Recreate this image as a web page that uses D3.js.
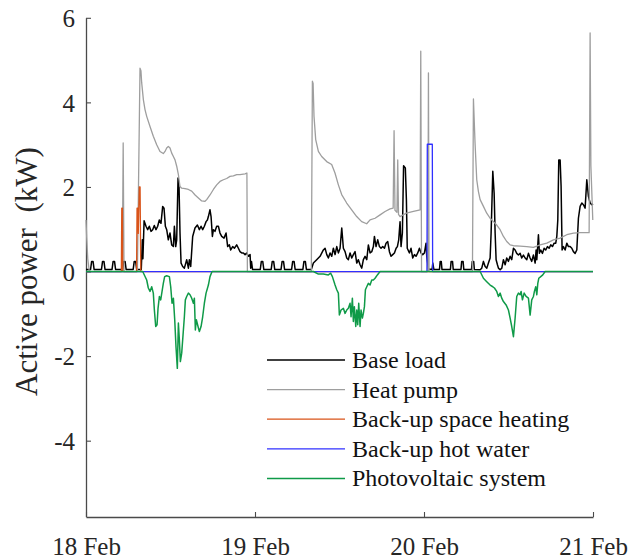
<!DOCTYPE html>
<html>
<head>
<meta charset="utf-8">
<script src="https://cdn.jsdelivr.net/npm/d3@7"></script>
<style>
  html, body { margin: 0; padding: 0; background: #fff; }
  svg { display: block; }
</style>
</head>
<body>
<div id="chart"></div>
<script>
// ---- Data: [hour since 18 Feb 00:00, kW] ----
const baseLoad = [
  [0,0.05],[0.65,0.05],[0.8,0.24],[1.0,0.24],[1.15,0.05],[2.2,0.05],[2.35,0.24],[2.55,0.24],[2.7,0.05],
  [3.7,0.05],[3.85,0.24],[4.05,0.24],[4.2,0.05],[5.2,0.05],[5.35,0.24],[5.55,0.24],[5.7,0.05],
  [6.7,0.05],[6.85,0.24],[7.05,0.24],[7.2,0.05],[7.85,0.05],[8.0,0.75],[8.08,0.3],[8.25,1.2],
  [8.52,1.07],[8.76,0.99],[8.99,1.07],[9.23,0.95],[9.47,0.99],[9.7,1.09],[9.94,0.99],[10.18,1.07],
  [10.41,1.22],[10.65,1.14],[10.89,1.54],[11.08,1.5],[11.27,1.07],[11.46,0.99],[11.69,0.75],[11.93,0.91],
  [12.17,0.63],[12.41,0.59],[12.55,1.07],[12.74,0.59],[12.88,0.75],[13.07,2.21],[13.21,2.01],[13.35,0.91],
  [13.5,0.2],[13.73,0.12],[13.97,0.08],[14.3,0.28],[14.54,0.08],[14.68,0.28],[14.87,0.12],[15.15,0.83],
  [15.48,1.03],[15.82,1.1],[16.1,0.99],[16.34,1.07],[16.57,0.99],[16.81,1.07],[17.05,1.18],[17.24,1.22],
  [17.38,1.3],[17.61,1.46],[17.76,1.3],[17.95,0.83],[18.09,0.99],[18.32,0.95],[18.56,1.07],[18.8,1.07],
  [19.03,0.91],[19.27,0.83],[19.6,0.79],[19.89,0.91],[20.12,0.59],[20.36,0.63],[20.55,0.51],[20.83,0.59],
  [21.07,0.55],[21.4,0.63],[21.64,0.55],[21.87,0.47],[22.11,0.44],[22.35,0.44],[22.59,0.4],[22.82,0.44],
  [23.06,0.36],[23.3,0.4],[23.39,0.08],[23.5,0.24],[23.65,0.05],
  [24.75,0.05],[24.9,0.24],[25.1,0.24],[25.25,0.05],[26.3,0.05],[26.45,0.24],[26.65,0.24],[26.8,0.05],
  [27.7,0.05],[27.85,0.24],[28.05,0.24],[28.2,0.05],[29.2,0.05],[29.35,0.24],[29.55,0.24],[29.7,0.05],
  [30.8,0.05],[30.95,0.24],[31.15,0.24],[31.3,0.05],[32.0,0.05],
  [32.29,0.2],[32.76,0.28],[33.24,0.36],[33.71,0.51],[33.95,0.55],[34.19,0.4],[34.42,0.32],[34.66,0.44],
  [34.9,0.36],[35.13,0.55],[35.37,0.4],[35.61,0.59],[35.84,0.44],[36.08,0.55],[36.32,1.03],[36.55,0.55],
  [36.79,0.47],[37.03,0.32],[37.26,0.28],[37.5,0.44],[37.74,0.32],[37.97,0.4],[38.21,0.47],[38.45,0.2],
  [38.68,0.28],[38.92,0.16],[39.16,0.08],[39.39,0.28],[39.63,0.36],[39.87,0.28],[40.1,0.63],[40.34,0.44],
  [40.58,0.47],[40.81,0.59],[40.96,0.83],[41.19,0.59],[41.43,0.75],[41.67,0.59],[41.9,0.55],[42.14,0.59],
  [42.38,0.55],[42.61,0.67],[42.85,0.71],[43.09,0.47],[43.32,0.36],[43.56,0.4],[43.8,0.44],[44.04,0.55],
  [44.22,0.59],[44.41,0.75],[44.6,1.18],[44.74,0.59],[44.93,0.91],[45.1,2.5],[45.35,2.45],[45.5,1.7],
  [45.62,0.55],[45.93,0.44],[46.16,0.55],[46.4,0.32],[46.64,0.4],[46.87,0.36],[47.11,0.44],[47.35,0.55],
  [47.58,0.44],[47.82,0.4],[48.06,0.44],[48.29,0.67],[48.39,0.36],[48.63,0.06],[49.15,0.05],[49.25,0.2],
  [49.4,0.05],[50.2,0.05],[50.3,0.24],[50.45,0.24],[50.55,0.05],[51.75,0.05],[51.85,0.24],[52.05,0.24],
  [52.15,0.05],[53.25,0.05],[53.35,0.24],[53.55,0.24],[53.65,0.05],[54.75,0.05],[54.85,0.24],[55.05,0.24],
  [55.15,0.05],
  [55.97,0.04],[56.2,0.08],[56.44,0.24],[56.68,0.12],[56.92,0.08],[57.15,0.2],[57.39,0.32],[57.53,0.91],
  [57.77,2.37],[57.96,1.85],[58.1,0.91],[58.24,0.28],[58.43,0.16],[58.57,0.08],[58.81,0.04],[59.05,0.08],
  [59.28,0.28],[59.52,0.16],[59.75,0.32],[59.99,0.24],[60.23,0.36],[60.46,0.28],[60.7,0.55],[60.94,0.51],
  [61.17,0.43],[61.41,0.39],[61.65,0.43],[61.88,0.32],[62.12,0.39],[62.36,0.32],[62.6,0.28],[62.83,0.43],
  [63.07,0.32],[63.3,0.24],[63.54,0.39],[63.78,0.2],[63.92,0.51],[64.02,0.28],[64.25,0.87],[64.39,0.43],
  [64.58,0.51],[64.82,0.43],[65.06,0.55],[65.29,0.51],[65.53,0.59],[65.77,0.55],[66.0,0.63],[66.24,0.59],
  [66.48,0.67],[66.71,0.67],[66.86,0.83],[67.0,1.22],[67.14,2.64],[67.33,2.64],[67.47,2.01],[67.61,0.51],
  [67.8,0.59],[68.04,0.51],[68.28,0.67],[68.51,0.59],[68.75,0.59],[68.99,0.55],[69.22,0.47],[69.46,0.43],
  [69.7,0.51],[69.93,1.26],[70.17,1.54],[70.41,1.62],[70.64,1.58],[70.88,1.5],[71.12,2.17],[71.35,1.78],
  [71.59,1.62],[71.83,1.58],[72.0,1.6]
];

const heatPump = [
  [0,1.22],[0.1,0.8],[0.25,0.3],[0.45,0.03],[0.6,0],[5.15,0],[5.28,3.04],[5.4,0],[7.3,0],[7.67,4.81],
  [7.8,4.75],[7.91,4.46],[8.15,4.06],[8.38,3.83],[8.62,3.67],[9.09,3.43],[9.56,3.2],[10.04,3.0],[10.51,2.84],
  [10.98,2.79],[11.22,2.84],[11.46,2.92],[11.69,2.96],[11.93,2.92],[12.17,2.8],[12.41,2.72],[12.64,2.64],
  [12.88,2.49],[13.12,2.29],[13.35,2.01],[13.59,1.97],[14.07,1.96],[14.54,1.94],[15.01,1.9],[15.49,1.81],
  [15.96,1.74],[16.43,1.67],[16.9,1.66],[17.14,1.7],[17.61,1.81],[18.09,1.94],[18.56,2.05],[19.03,2.13],
  [19.51,2.17],[19.98,2.2],[20.45,2.25],[20.93,2.26],[21.4,2.29],[21.87,2.29],[22.59,2.31],[22.85,2.33],
  [22.92,0],[32.0,0],[32.15,4.5],[32.25,4.45],[32.38,3.67],[32.62,3.12],[33.0,2.84],[33.47,2.72],
  [34.18,2.6],[34.89,2.53],[35.36,2.33],[35.84,2.05],[36.31,1.82],[37.02,1.62],[37.73,1.46],[38.44,1.3],
  [39.15,1.18],[39.86,1.13],[40.34,1.22],[41.05,1.26],[41.76,1.34],[42.47,1.42],[43.18,1.48],[43.62,1.5],
  [43.75,3.33],[43.88,1.45],[44.16,1.4],[44.27,2.64],[44.38,1.35],[44.6,1.3],[45.5,1.38],[46.5,1.42],
  [47.45,1.46],[47.54,5.21],[47.65,0],[48.55,0],[48.63,4.7],[48.72,0],[54.88,0],[55.02,4.08],[55.25,3.04],
  [55.49,2.17],[55.73,1.89],[55.97,1.7],[56.44,1.54],[56.91,1.38],[57.39,1.26],[57.86,1.18],[58.33,1.1],
  [58.81,0.99],[59.28,0.83],[59.75,0.71],[60.23,0.63],[60.7,0.61],[61.65,0.6],[62.6,0.59],[63.54,0.57],
  [64.49,0.63],[65.44,0.67],[66.38,0.75],[67.33,0.79],[68.28,0.87],[69.22,0.91],[70.17,0.92],[71.45,0.92],
  [71.59,5.64],[71.7,2.5],[71.97,1.22]
];

const backupSpaceHeating = [
  [0,0],[5.02,0],[5.08,1.5],[5.17,1.5],[5.22,0],[7.18,0],[7.25,1.5],[7.35,1.5],[7.42,0.9],[7.5,1.5],
  [7.58,2.0],[7.68,2.0],[7.78,0],[72,0]
];

const backupHotWater = [
  [0,0],[48.42,0],[48.47,3.01],[49.18,3.01],[49.23,0],[72,0]
];

const photovoltaic = [
  [0,0],[8.05,0],[8.62,-0.2],[8.85,-0.39],[9.09,-0.47],[9.33,-0.36],[9.56,-0.51],[9.71,-0.91],[9.9,-1.3],
  [10.09,-1.26],[10.23,-0.87],[10.42,-0.59],[10.61,-0.67],[10.8,-0.47],[10.98,-0.28],[11.17,-0.12],
  [11.46,-0.1],[11.84,-0.12],[12.03,-0.36],[12.22,-0.75],[12.41,-0.63],[12.6,-1.14],[12.78,-1.78],
  [12.97,-2.29],[13.12,-1.22],[13.26,-1.62],[13.4,-2.13],[13.59,-1.93],[13.78,-1.5],[13.97,-1.07],
  [14.11,-0.67],[14.3,-0.59],[14.54,-0.51],[14.77,-0.55],[15.01,-0.63],[15.25,-0.75],[15.39,-0.63],
  [15.53,-1.38],[15.67,-1.14],[15.91,-1.3],[16.1,-1.42],[16.34,-1.3],[16.57,-1.07],[16.81,-0.75],
  [17.05,-0.51],[17.38,-0.32],[17.61,-0.12],[17.9,0],
  [32.29,0],[33.0,-0.06],[33.71,-0.06],[34.42,-0.08],[34.75,-0.04],[34.99,-0.12],[35.37,-0.32],[35.61,-0.43],
  [35.84,-0.51],[35.98,-1.03],[36.22,-0.91],[36.55,-0.87],[36.79,-0.99],[37.03,-0.91],[37.26,-0.87],
  [37.5,-0.75],[37.64,-1.07],[37.83,-0.63],[37.97,-1.18],[38.11,-0.83],[38.31,-1.3],[38.45,-0.91],
  [38.59,-1.26],[38.73,-0.75],[38.92,-1.3],[39.06,-0.91],[39.25,-1.1],[39.39,-0.99],[39.54,-0.83],
  [39.68,-0.43],[39.87,-0.36],[40.1,-0.28],[40.34,-0.32],[40.58,-0.2],[40.81,-0.2],[41.05,-0.16],
  [41.38,-0.08],[41.76,0],
  [55.97,0],[56.44,-0.16],[56.91,-0.24],[57.39,-0.32],[57.77,-0.36],[58.0,-0.39],[58.33,-0.47],[58.57,-0.59],
  [58.81,-0.51],[59.04,-0.63],[59.28,-0.71],[59.66,-0.79],[59.99,-0.91],[60.23,-1.1],[60.46,-1.3],
  [60.7,-1.54],[60.94,-1.1],[61.17,-0.59],[61.41,-0.51],[61.65,-0.55],[61.79,-0.47],[61.98,-0.67],
  [62.22,-0.51],[62.5,-0.59],[62.83,-0.63],[63.07,-1.03],[63.3,-0.67],[63.54,-0.59],[63.68,-0.47],
  [63.87,-0.36],[64.02,-0.55],[64.16,-0.28],[64.3,-0.16],[64.58,-0.12],[64.87,-0.08],[65.2,0],[72,0]
];

const seriesNames = ["Base load", "Heat pump", "Back-up space heating", "Back-up hot water", "Photovoltaic system"];
const xTickValues = [0, 24, 48, 72];
const xTickLabels = ["18 Feb", "19 Feb", "20 Feb", "21 Feb"];
const yTickValues = [-4, -2, 0, 2, 4, 6];
const yLabel = "Active power  (kW)";

// ---- Styling ----
const W = 629, H = 560;
const colors = ["#000000", "#9e9e9e", "#d95319", "#3030ff", "#0f9a48"];
const widths = [1.5, 1.3, 1.3, 1.3, 1.5];
const FONT = "Liberation Serif";
const AXIS = "#4a4a4a";

const svg = d3.select("#chart").append("svg").attr("width", W).attr("height", H);

const x = d3.scaleLinear().domain([0, 72]).range([86, 593]);
const y = d3.scaleLinear().domain([-5.8, 6]).range([516.8, 17.8]);

const line = d3.line().x(d => x(d[0])).y(d => y(d[1]));
const allSeries = [baseLoad, heatPump, backupSpaceHeating, backupHotWater, photovoltaic];

// axes
const gx = svg.append("g").attr("transform", "translate(0,517)")
  .call(d3.axisBottom(x).tickValues(xTickValues).tickSize(-5).tickSizeOuter(0)
    .tickFormat((d, i) => xTickLabels[i]));
const gy = svg.append("g").attr("transform", `translate(${x.range()[0]},0)`)
  .call(d3.axisLeft(y).tickValues(yTickValues).tickSize(-5).tickSizeOuter(0)
    .tickFormat(d => String(d)));

[gx, gy].forEach(g => {
  g.attr("font-family", FONT);
  g.select(".domain").attr("stroke", AXIS).attr("stroke-width", 1.3);
  g.selectAll(".tick line").attr("stroke", AXIS).attr("stroke-width", 1.1);
  g.selectAll(".tick text").attr("fill", "#262626").attr("font-family", FONT).style("font-family", FONT).style("font-size", "25px");
});
gx.selectAll(".tick text").attr("y", 20);
gy.selectAll(".tick text").attr("x", -11).attr("dy", "0.35em");

// series
allSeries.forEach((s, i) => {
  svg.append("path").datum(s)
    .attr("fill", "none")
    .attr("stroke", colors[i])
    .attr("stroke-width", widths[i])
    .attr("stroke-linejoin", "round")
    .attr("d", line);
});

// y label
svg.append("text")
  .attr("transform", `translate(37,${y(0)}) rotate(-90)`)
  .attr("text-anchor", "middle")
  .attr("fill", "#262626")
  .attr("font-family", FONT)
  .style("font-family", FONT)
  .style("font-size", "31px")
  .style("white-space", "pre")
  .text(yLabel);

// legend
const legend = svg.append("g");
seriesNames.forEach((name, i) => {
  const ly = 360 + i * 29.6;
  legend.append("line").attr("x1", 267).attr("x2", 345).attr("y1", ly).attr("y2", ly)
    .attr("stroke", colors[i]).attr("stroke-width", widths[i]);
  legend.append("text").attr("x", 352).attr("y", ly).attr("dy", "0.33em")
    .attr("fill", "#111").attr("font-family", FONT).style("font-family", FONT)
    .style("font-size", "24px").text(name);
});
</script>
</body>
</html>
